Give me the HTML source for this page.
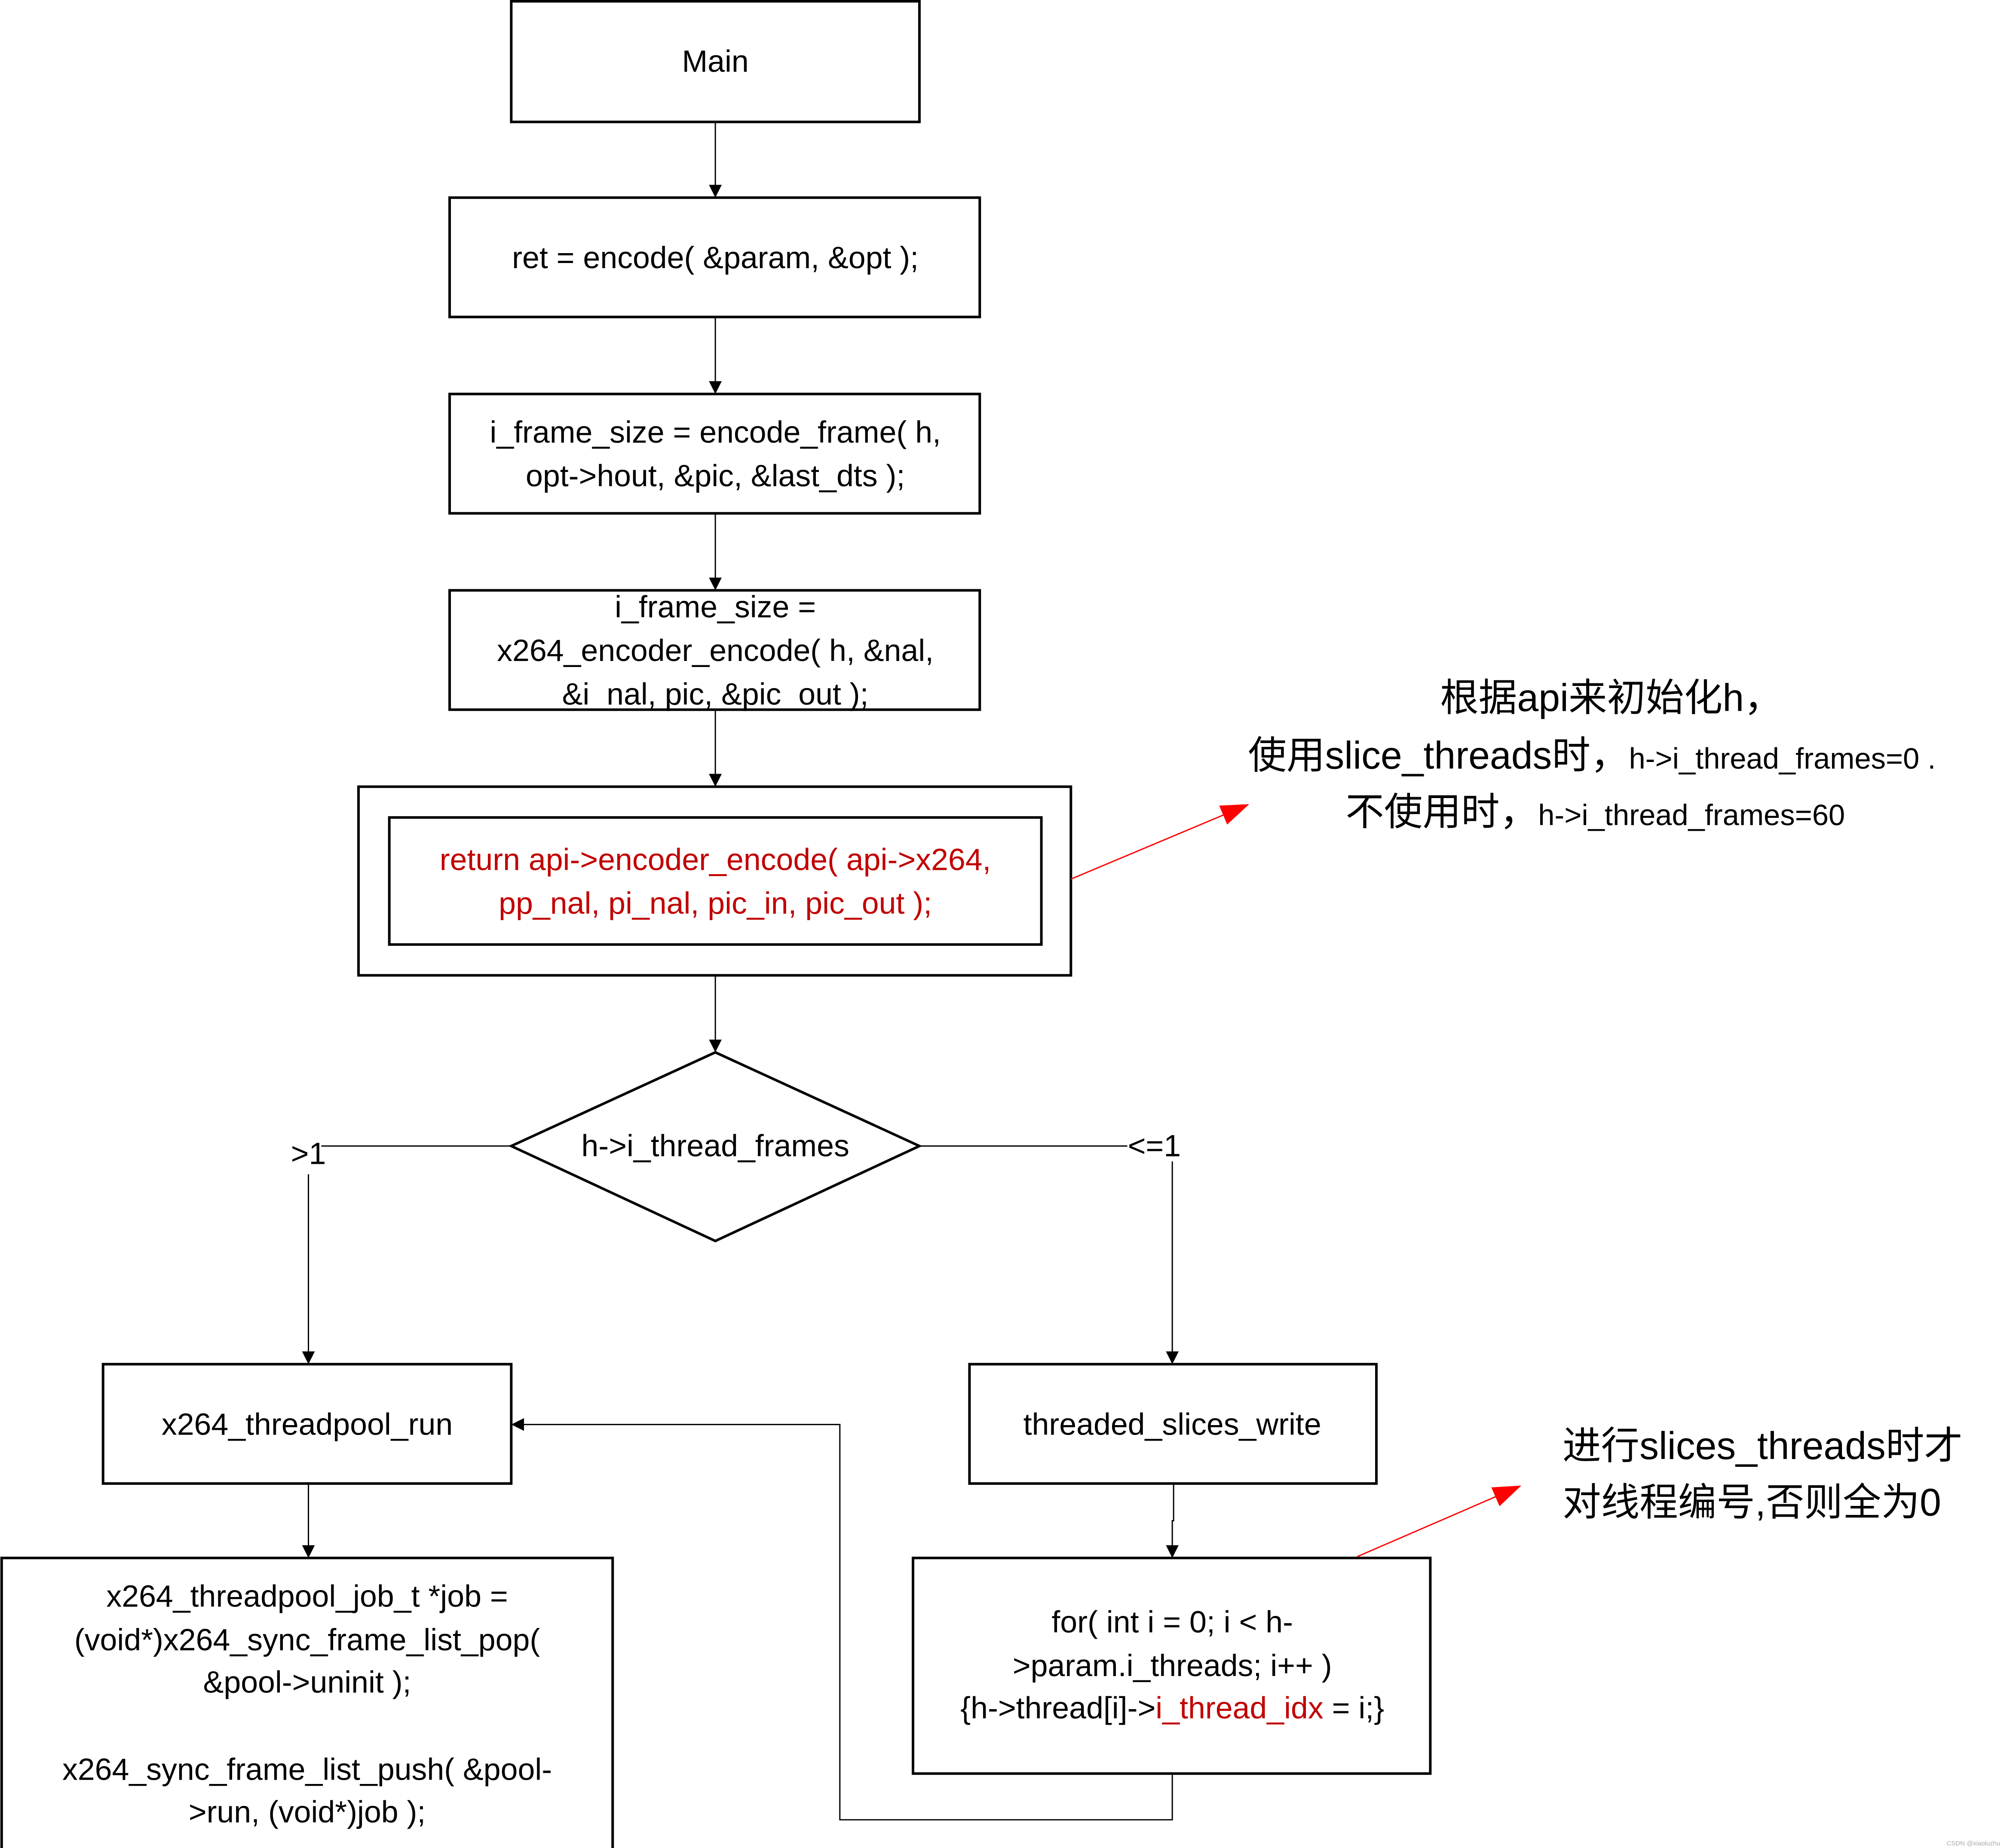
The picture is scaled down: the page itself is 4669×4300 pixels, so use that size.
<!DOCTYPE html>
<html><head><meta charset="utf-8"><style>
html,body{margin:0;padding:0;background:#fff;}
svg{display:block;}
text{font-family:"Liberation Sans","Noto Sans CJK SC",sans-serif;}
</style></head><body>
<svg width="4669" height="4300" viewBox="0 0 1563 1440" xmlns="http://www.w3.org/2000/svg">
<defs>
<marker id="a" markerWidth="10" markerHeight="10" refX="9" refY="5" orient="auto" markerUnits="userSpaceOnUse"><path d="M0,0 L10,5 L0,10 z" fill="#000"/></marker>
<marker id="r" markerWidth="22" markerHeight="16" refX="21" refY="8" orient="auto" markerUnits="userSpaceOnUse"><path d="M0,0 L22,8 L0,16 z" fill="#f00"/></marker>
</defs>
<rect width="1563" height="1440" fill="#fff"/>
<g fill="none" stroke="#000" stroke-width="2">
<rect x="398" y="1" width="318" height="94"/>
<rect x="350" y="154" width="413" height="93"/>
<rect x="350" y="307" width="413" height="93"/>
<rect x="350" y="460" width="413" height="93"/>
<rect x="279" y="613" width="555" height="147"/>
<rect x="303" y="637" width="508" height="99"/>
<path d="M557,820 L716,893 L557,967 L398,893 Z"/>
<rect x="80" y="1063" width="318" height="93"/>
<rect x="1" y="1214" width="476" height="228"/>
<rect x="755" y="1063" width="317" height="93"/>
<rect x="711" y="1214" width="403" height="168"/>
</g>
<g stroke="#000" stroke-width="1" fill="none">
<line x1="557" y1="95" x2="557" y2="153" marker-end="url(#a)"/>
<line x1="557" y1="247" x2="557" y2="306" marker-end="url(#a)"/>
<line x1="557" y1="400" x2="557" y2="459" marker-end="url(#a)"/>
<line x1="557" y1="553" x2="557" y2="612" marker-end="url(#a)"/>
<line x1="557" y1="760" x2="557" y2="819" marker-end="url(#a)"/>
<polyline points="398,893 250,893"/>
<line x1="240" y1="915" x2="240" y2="1062" marker-end="url(#a)"/>
<polyline points="716,893 878,893"/>
<polyline points="913,905 913,1062" marker-end="url(#a)"/>
<line x1="240" y1="1156" x2="240" y2="1213" marker-end="url(#a)"/>
<polyline points="914,1156 914,1185 913,1185 913,1213" marker-end="url(#a)"/>
<polyline points="913,1382 913,1418 654,1418 654,1110 399,1110" marker-end="url(#a)"/>
</g>
<g stroke="#f00" stroke-width="1">
<line x1="834" y1="685" x2="972" y2="627" marker-end="url(#r)"/>
<line x1="1057" y1="1213" x2="1184" y2="1158" marker-end="url(#r)"/>
</g>
<g font-size="24" text-anchor="middle" fill="#000">
<text x="557" y="56">Main</text>
<text x="557" y="209">ret = encode( &amp;param, &amp;opt );</text>
<text x="557" y="345">i_frame_size = encode_frame( h,</text>
<text x="557" y="379">opt-&gt;hout, &amp;pic, &amp;last_dts );</text>
<text x="557" y="481">i_frame_size =</text>
<text x="557" y="515">x264_encoder_encode( h, &amp;nal,</text>
<text x="557" y="549">&amp;i_nal, pic, &amp;pic_out );</text>
<text x="557" y="678" fill="#c00000">return api-&gt;encoder_encode( api-&gt;x264,</text>
<text x="557" y="712" fill="#c00000">pp_nal, pi_nal, pic_in, pic_out );</text>
<text x="557" y="901">h-&gt;i_thread_frames</text>
<text x="240" y="907">&gt;1</text>
<text x="899" y="901">&lt;=1</text>
<text x="239" y="1118">x264_threadpool_run</text>
<text x="913" y="1118">threaded_slices_write</text>
<text x="239" y="1252">x264_threadpool_job_t *job =</text>
<text x="239" y="1286">(void*)x264_sync_frame_list_pop(</text>
<text x="239" y="1319">&amp;pool-&gt;uninit );</text>
<text x="239" y="1387">x264_sync_frame_list_push( &amp;pool-</text>
<text x="239" y="1420">&gt;run, (void*)job );</text>
<text x="913" y="1272">for( int i = 0; i &lt; h-</text>
<text x="913" y="1306">&gt;param.i_threads; i++ )</text>
<text x="913" y="1339">{h-&gt;thread[i]-&gt;<tspan fill="#c00000">i_thread_idx</tspan> = i;}</text>
</g>
<g fill="#000">
<text x="1255" y="554" font-size="30" text-anchor="middle">根据api来初始化h，</text>
<text x="972" y="599" font-size="30">使用slice_threads时，<tspan font-size="23">h-&gt;i_thread_frames=0 .</tspan></text>
<text x="1048" y="643" font-size="30">不使用时，<tspan font-size="23">h-&gt;i_thread_frames=60</tspan></text>
<text x="1217" y="1137" font-size="30">进行slices_threads时才</text>
<text x="1217" y="1181" font-size="30">对线程编号,否则全为0</text>
<text x="1558" y="1438" font-size="5" text-anchor="end" fill="#aaa">CSDN @xiaoluzhu</text>
</g>
</svg>
</body></html>
